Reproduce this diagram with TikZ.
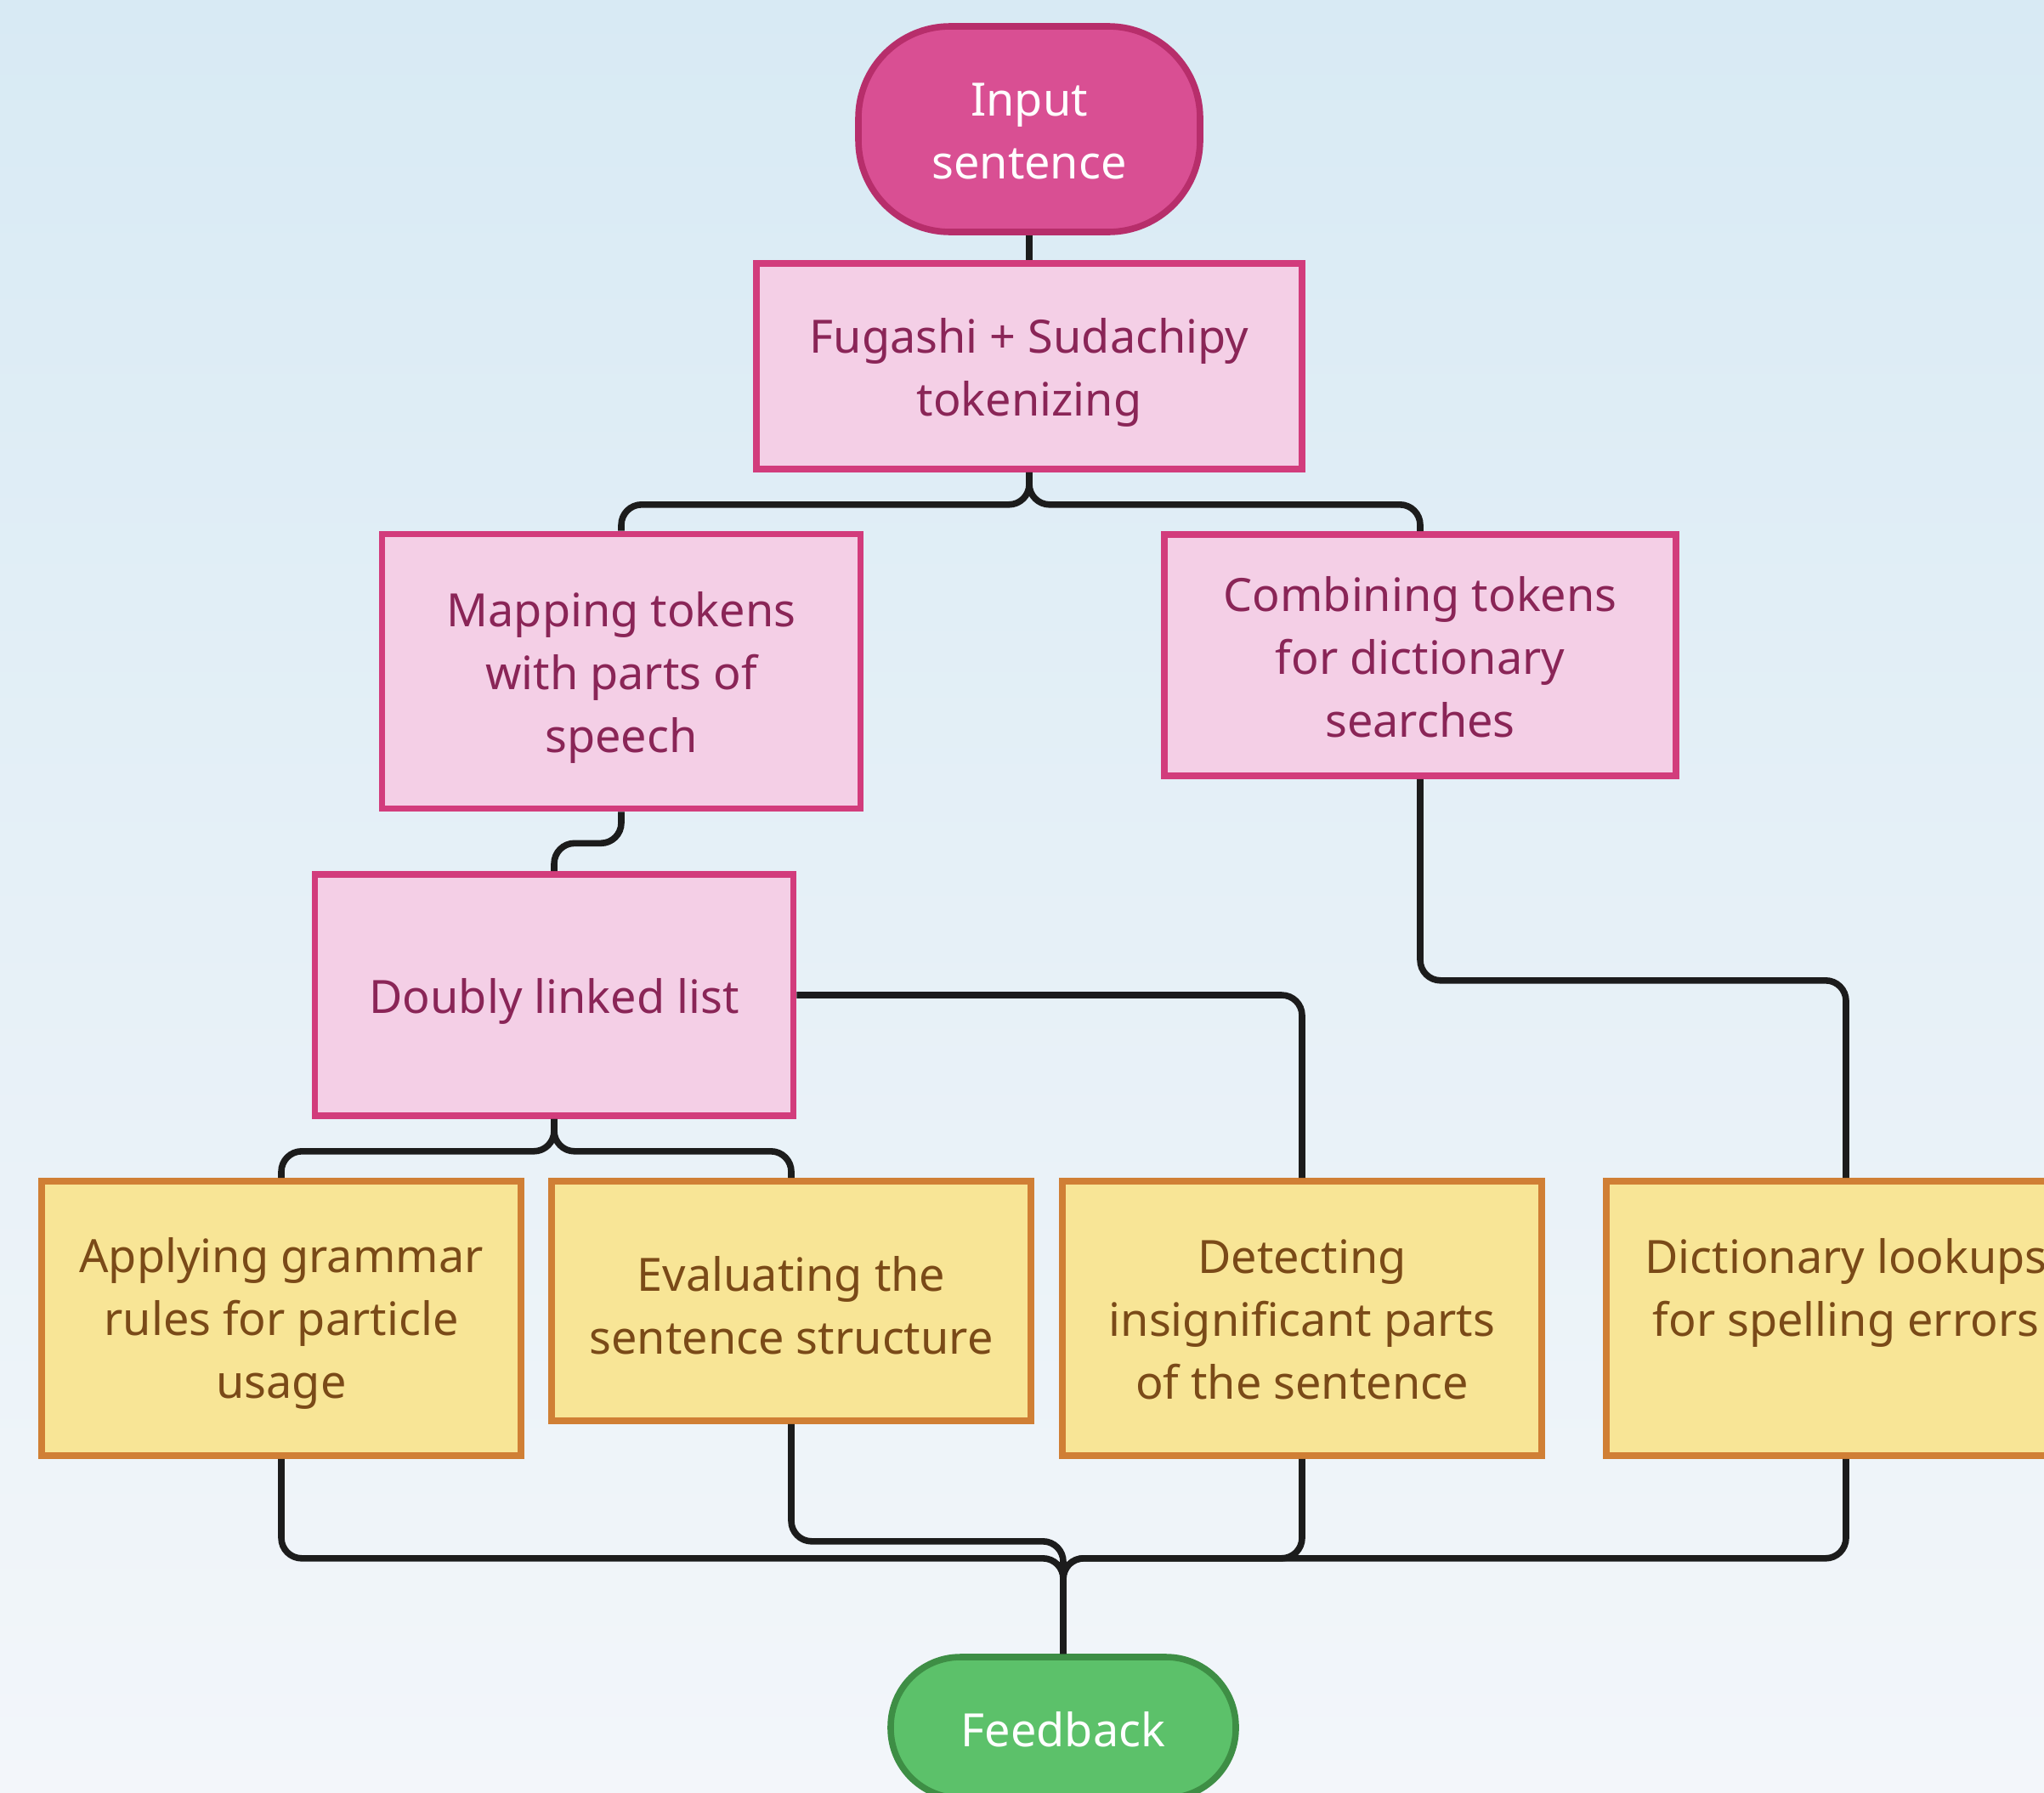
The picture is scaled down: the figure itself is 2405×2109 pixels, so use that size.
\documentclass[tikz,border=0pt]{standalone}
\usepackage{fontspec}
\setmainfont{Noto Sans}
\definecolor{bgtop}{HTML}{D8EAF4}
\definecolor{bgbot}{HTML}{F3F6FA}
\definecolor{termfill}{HTML}{D94F93}
\definecolor{termdraw}{HTML}{B72E6B}
\definecolor{pinkfill}{HTML}{F4CFE6}
\definecolor{pinkdraw}{HTML}{D23C7C}
\definecolor{pinktext}{HTML}{8A2557}
\definecolor{yelfill}{HTML}{F8E596}
\definecolor{yeldraw}{HTML}{D07F35}
\definecolor{yeltext}{HTML}{7A4A18}
\definecolor{grnfill}{HTML}{5CC16A}
\definecolor{grndraw}{HTML}{3E8E45}
\definecolor{wire}{HTML}{1C1C1C}
\tikzset{
  base/.style={inner sep=0pt, line width=1.9pt},
  tx/.style={align=center, inner sep=0pt, yshift=-1.8pt,
    font=\fontsize{13.5}{18.5}\selectfont},
  term/.style={base, fill=termfill, draw=termdraw,
    rounded corners=27pt, minimum width=100.5pt, minimum height=60.5pt},
  pinkbox/.style={base, fill=pinkfill, draw=pinkdraw},
  yelbox/.style={base, fill=yelfill, draw=yeldraw, minimum width=141pt},
  fbterm/.style={base, fill=grnfill, draw=grndraw,
    rounded corners=20.5pt, minimum width=101.5pt, minimum height=41.5pt},
  ptx/.style={tx, text=pinktext},
  ytx/.style={tx, text=yeltext},
  wtx/.style={tx, text=white},
  wirestyle/.style={draw=wire, line width=1.9pt, rounded corners=6pt}
}
\begin{document}
\begin{tikzpicture}[x=0.25pt,y=-0.25pt]
\shade[top color=bgtop, bottom color=bgbot] (0,0) rectangle (2405,2109);
\useasboundingbox (0,0) rectangle (2405,2109);

\node[term, label={[wtx, yshift=1.1pt]center:{Input\\sentence}}] (inp) at (1211,152) {};
\node[pinkbox, minimum width=160.5pt, minimum height=60.5pt,
  label={[ptx]center:{Fugashi + Sudachipy\\tokenizing}}] (fug) at (1211,431) {};
\node[pinkbox, minimum width=140.75pt, minimum height=80.75pt,
  label={[ptx]center:{Mapping tokens\\with parts of\\speech}}] (map) at (731,790) {};
\node[pinkbox, minimum width=150.5pt, minimum height=71pt,
  label={[ptx, yshift=1.3pt]center:{Combining tokens\\for dictionary\\searches}}] (comb) at (1671,771) {};
\node[pinkbox, minimum width=140.75pt, minimum height=71pt,
  label={[ptx]center:{Doubly linked list}}] (dll) at (652,1171) {};

\node[yelbox, minimum height=80.75pt,
  label={[ytx, yshift=0.3pt]center:{Applying grammar\\rules for particle\\usage}}] (app) at (331,1551.5) {};
\node[yelbox, minimum height=70.5pt,
  label={[ytx, yshift=0.4pt]center:{Evaluating the\\sentence structure}}] (eval) at (931,1531) {};
\node[yelbox, minimum height=80.75pt,
  label={[ytx, yshift=1.5pt]center:{Detecting\\insignificant parts\\of the sentence}}] (det) at (1532,1551.5) {};
\node[yelbox, minimum height=80.75pt,
  label={[ytx, yshift=9.4pt]center:{Dictionary lookups\\for spelling errors}}] (dict) at (2172,1551.5) {};

\node[fbterm, label={[wtx, yshift=1.3pt]center:{Feedback}}] (fb) at (1251,2033) {};

\draw[wirestyle] (inp.south) -- (fug.north);
\draw[wirestyle] (fug.south) -- ++(0,38) -| (map.north);
\draw[wirestyle] (fug.south) -- ++(0,38) -| (comb.north);
\draw[wirestyle] (map.south) -- ++(0,37) -| (dll.north);
\draw[wirestyle] (dll.east) -| (det.north);
\draw[wirestyle] (dll.south) -- ++(0,38) -| (app.north);
\draw[wirestyle] (dll.south) -- ++(0,38) -| (eval.north);
\draw[wirestyle] (comb.south) -- ++(0,237) -| (dict.north);
\draw[wirestyle] (app.south) -- ++(0,117) -| (fb.north);
\draw[wirestyle] (eval.south) -- ++(0,138) -| (fb.north);
\draw[wirestyle] (det.south) -- ++(0,117) -| (fb.north);
\draw[wirestyle] (dict.south) -- ++(0,117) -| (fb.north);
\end{tikzpicture}
\end{document}
